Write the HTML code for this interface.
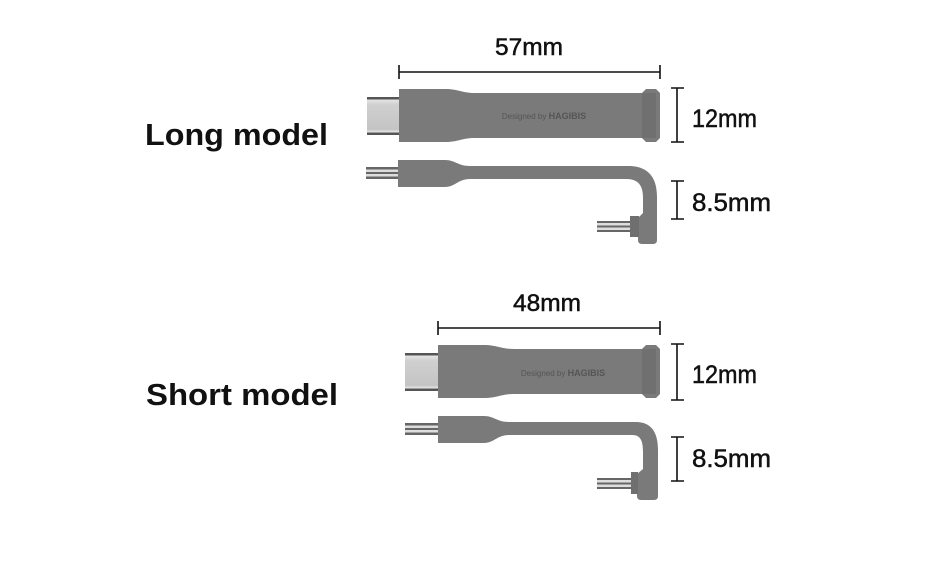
<!DOCTYPE html>
<html><head><meta charset="utf-8"><style>
html,body{margin:0;padding:0;background:#fff;}
svg{display:block;}
</style></head><body>
<svg width="930" height="564" viewBox="0 0 930 564" xmlns="http://www.w3.org/2000/svg">
<defs>
<linearGradient id="plug" x1="0" y1="0" x2="0" y2="1">
<stop offset="0" stop-color="#555"/><stop offset="0.06" stop-color="#555"/>
<stop offset="0.07" stop-color="#e6e6e6"/><stop offset="0.2" stop-color="#d0d0d0"/>
<stop offset="0.85" stop-color="#c4c4c4"/><stop offset="0.93" stop-color="#e8e8e8"/>
<stop offset="0.94" stop-color="#555"/><stop offset="1" stop-color="#555"/>
</linearGradient>
<linearGradient id="pin" x1="0" y1="0" x2="0" y2="1">
<stop offset="0" stop-color="#666"/><stop offset="0.2" stop-color="#666"/>
<stop offset="0.2" stop-color="#ddd"/><stop offset="0.42" stop-color="#ddd"/>
<stop offset="0.42" stop-color="#666"/><stop offset="0.58" stop-color="#666"/>
<stop offset="0.58" stop-color="#ddd"/><stop offset="0.8" stop-color="#ddd"/>
<stop offset="0.8" stop-color="#666"/><stop offset="1" stop-color="#666"/>
</linearGradient>
</defs>
<g font-family="Liberation Sans, sans-serif" fill="#111">
<text x="145" y="145" font-size="31" font-weight="bold" textLength="183" lengthAdjust="spacingAndGlyphs">Long model</text>
<text x="146" y="405" font-size="31" font-weight="bold" textLength="192" lengthAdjust="spacingAndGlyphs">Short model</text>
<g stroke="#111" stroke-width="0.5">
<text x="495" y="55" font-size="24" textLength="68" lengthAdjust="spacingAndGlyphs">57mm</text>
<text x="513" y="311" font-size="24" textLength="68" lengthAdjust="spacingAndGlyphs">48mm</text>
<text x="692" y="127" font-size="25" textLength="65" lengthAdjust="spacingAndGlyphs">12mm</text>
<text x="692" y="211" font-size="25" textLength="79" lengthAdjust="spacingAndGlyphs">8.5mm</text>
<text x="692" y="383" font-size="25" textLength="65" lengthAdjust="spacingAndGlyphs">12mm</text>
<text x="692" y="467" font-size="25" textLength="79" lengthAdjust="spacingAndGlyphs">8.5mm</text>
</g>
</g>
<g stroke="#111" stroke-width="1.6" fill="none">
<path d="M399,72H660M399,65V79M660,65V79"/>
<path d="M438,328H660M438,321V335M660,321V335"/>
<path d="M677,88V142M671,88H684M671,142H684"/>
<path d="M677,181V219M671,181H684M671,219H684"/>
<path d="M677,344V400M671,344H684M671,400H684"/>
<path d="M677,437V481M671,437H684M671,481H684"/>
</g>

<!-- Long model adapter -->
<rect x="367" y="97" width="32" height="38" fill="url(#plug)"/>
<path d="M399,89H445C458,89 462,93 475,93H642L646,89H656L660,93V138L656,142H646L642,138H475C462,138 458,142 445,142H399Z" fill="#7a7a7a"/>
<path d="M642,93H656V138H642Z" fill="#707070"/>
<text x="544" y="119" font-family="Liberation Sans, sans-serif" font-size="8" fill="#555" text-anchor="middle">Designed by <tspan font-weight="bold" font-size="9">HAGIBIS</tspan></text>
<!-- Long cable -->
<rect x="366" y="167" width="33" height="12" fill="url(#pin)"/>
<path d="M398,160H445C455,160 458,166 470,166L628,166C648,166 657,177 657,197L657,240Q657,244 653,244L642,244Q638,244 638,240L638,218L643,213L643,198C643,185 638,179 626,179L470,179C458,179 455,187 445,187H398Z" fill="#7a7a7a"/>
<rect x="597" y="221" width="34" height="11" fill="url(#pin)"/>
<rect x="630" y="216" width="9" height="21" fill="#6f6f6f"/>

<!-- Short model adapter -->
<rect x="405" y="353" width="33" height="38" fill="url(#plug)"/>
<path d="M438,345H484C497,345 501,349 514,349H642L646,345H656L660,349V394L656,398H646L642,394H514C501,394 497,398 484,398H438Z" fill="#7a7a7a"/>
<path d="M642,349H656V394H642Z" fill="#707070"/>
<text x="563" y="376" font-family="Liberation Sans, sans-serif" font-size="8" fill="#555" text-anchor="middle">Designed by <tspan font-weight="bold" font-size="9">HAGIBIS</tspan></text>
<!-- Short cable -->
<rect x="405" y="423" width="33" height="12" fill="url(#pin)"/>
<path d="M438,416H484C494,416 497,422 509,422L636,422C651,422 658,432 658,450L658,496Q658,500 654,500L641,500Q637,500 637,496L637,474L643,469L643,452C643,440 640,435 632,435L509,435C497,435 494,443 484,443H438Z" fill="#7a7a7a"/>
<rect x="597" y="478" width="35" height="11" fill="url(#pin)"/>
<rect x="631" y="472" width="7" height="22" fill="#6f6f6f"/>
</svg>
</body></html>
